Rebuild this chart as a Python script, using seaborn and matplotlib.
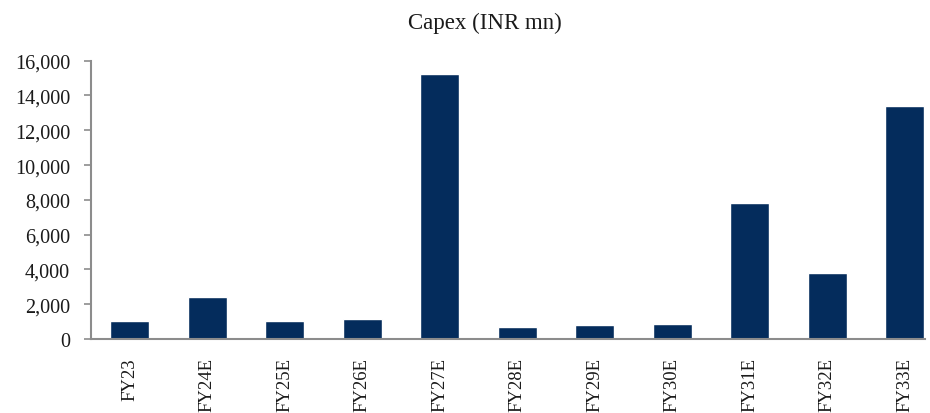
import matplotlib
matplotlib.use("Agg")
import matplotlib.pyplot as plt
import seaborn as sns
import pandas as pd
from matplotlib.ticker import FuncFormatter

categories = ["FY23", "FY24E", "FY25E", "FY26E", "FY27E", "FY28E",
              "FY29E", "FY30E", "FY31E", "FY32E", "FY33E"]
capex = [1020, 2420, 1020, 1170, 15210, 710, 790, 880, 7830, 3800, 13410]
yticks = [0, 2000, 4000, 6000, 8000, 10000, 12000, 14000, 16000]
title = "Capex (INR mn)"

sns.set_theme(style="white")
plt.rcParams['font.family'] = ['Liberation Serif', 'DejaVu Serif']

df = pd.DataFrame({"cat": categories, "val": capex})

fig = plt.figure(figsize=(9.3, 4.14), dpi=100)
ax = fig.add_axes([91/930, 74/414, (925-91)/930, (340-61.7)/414])
sns.barplot(data=df, x="cat", y="val", color="#042C5C", saturation=1,
            width=0.5, ax=ax)

ax.set_xlim(-0.5, 10.26)
ax.set_ylim(0, 16000)
ax.set_yticks(yticks)
ax.yaxis.set_major_formatter(FuncFormatter(lambda v, p: f"{int(v):,}"))
ax.set_xlabel("")
ax.set_ylabel("")

for s in ["top", "right"]:
    ax.spines[s].set_visible(False)
for s in ["left", "bottom"]:
    ax.spines[s].set_color("#8C8C8C")
    ax.spines[s].set_linewidth(1.5)

ax.tick_params(axis="y", which="major", left=True, length=5, width=1.2,
               color="#8C8C8C", pad=10, labelsize=14.5, labelcolor="#1a1a1a")
ax.tick_params(axis="x", bottom=False, pad=7, labelsize=13.5,
               labelrotation=90, labelcolor="#1a1a1a")
for lab in ax.get_xticklabels():
    lab.set_va("top")

fig.text(485/930, 1 - 23/414, title, ha="center", va="center",
         fontsize=16.5, color="#1a1a1a")

fig.savefig("out.png", dpi=100)
